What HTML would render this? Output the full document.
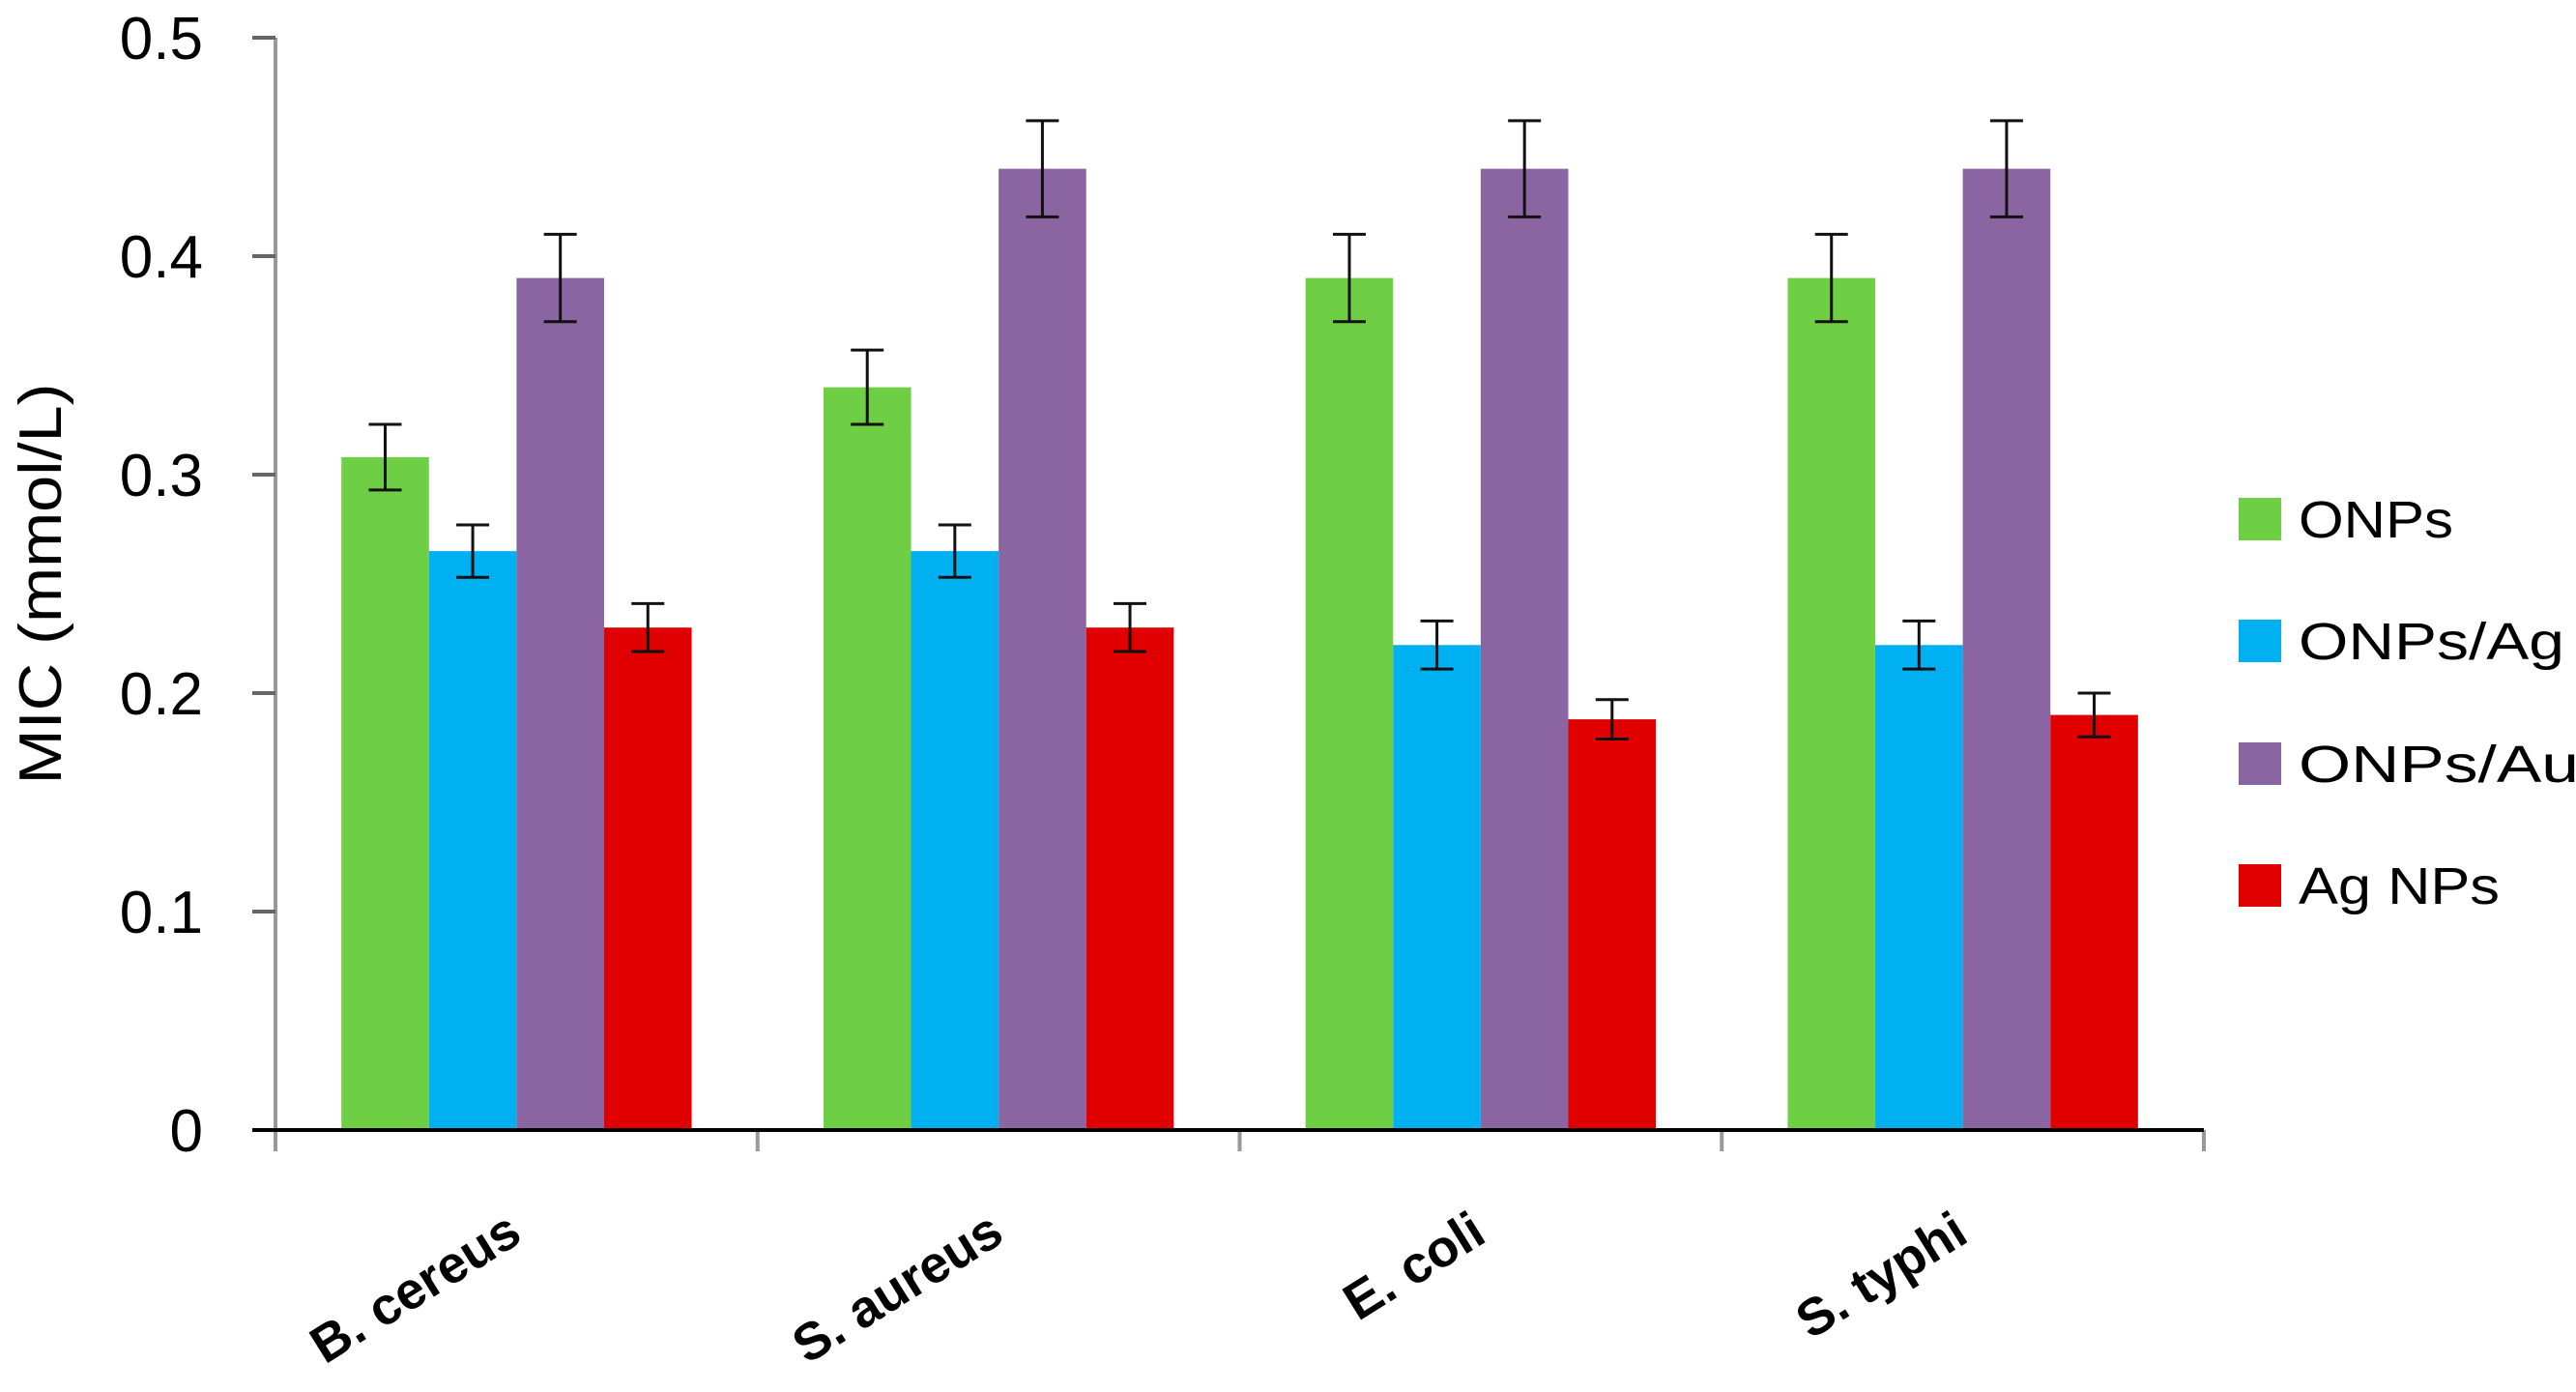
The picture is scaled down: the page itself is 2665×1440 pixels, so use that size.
<!DOCTYPE html>
<html><head><meta charset="utf-8"><style>
html,body{margin:0;padding:0;background:#fff;}
svg{display:block;font-family:"Liberation Sans","DejaVu Sans",sans-serif;}
</style></head><body>
<svg id="chart" width="2665" height="1440" viewBox="0 0 2665 1440"></svg>
<script>
const categories = ["B. cereus", "S. aureus", "E. coli", "S. typhi"];
const seriesNames = ["ONPs", "ONPs/Ag", "ONPs/Au", "Ag NPs"];
const onpsValues = [0.308, 0.34, 0.39, 0.39];
const onpsAgValues = [0.265, 0.265, 0.222, 0.222];
const onpsAuValues = [0.39, 0.44, 0.44, 0.44];
const agNpsValues = [0.23, 0.23, 0.188, 0.19];
const onpsErr = [0.015, 0.017, 0.02, 0.02];
const onpsAgErr = [0.012, 0.012, 0.011, 0.011];
const onpsAuErr = [0.02, 0.022, 0.022, 0.022];
const agNpsErr = [0.011, 0.011, 0.009, 0.01];
const yTicks = [0, 0.1, 0.2, 0.3, 0.4, 0.5];
const yTickLabels = ["0", "0.1", "0.2", "0.3", "0.4", "0.5"];

const colors = ["#6fcf44", "#00b0f0", "#8b64a2", "#e00000"];
const seriesVals = [onpsValues, onpsAgValues, onpsAuValues, agNpsValues];
const seriesErr = [onpsErr, onpsAgErr, onpsAuErr, agNpsErr];

const NS = "http://www.w3.org/2000/svg";
const svg = document.getElementById("chart");
const X0 = 285, X1 = 2280, Y0 = 1169, Y1 = 39, YMAX = 0.5;
const catW = (X1 - X0) / categories.length;
const barW = 90.6;
function y(v){ return Y0 - (v / YMAX) * (Y0 - Y1); }
function xCat(i){ return X0 + catW * (i + 0.5); }
function mk(tag, attrs, parent){
  const e = document.createElementNS(NS, tag);
  for (const k in attrs) e.setAttribute(k, attrs[k]);
  (parent || svg).appendChild(e);
  return e;
}

// y axis
const yAxis = mk("line", {x1:X0, y1:Y1, x2:X0, y2:Y0+20, stroke:"#999", "stroke-width":4});


yTicks.forEach((t, i) => {
  const tk = mk("line", {x1:X0-24, y1:y(t), x2:X0, y2:y(t), stroke:"#666", "stroke-width":4});
  
  
  const lb = mk("text", {x:210, y:y(t)+22, "text-anchor":"end", "font-size":62, fill:"#000"});
  lb.textContent = yTickLabels[i];
  
  
});
const yt = mk("text", {x:0, y:0, transform:"translate(63,604) rotate(-90)", "text-anchor":"middle", "font-size":62, fill:"#000", textLength:415, lengthAdjust:"spacingAndGlyphs"});
yt.textContent = "MIC (mmol/L)";



// bars
categories.forEach((c, ci) => {
  const start = xCat(ci) - barW * 2;
  seriesVals.forEach((vals, si) => {
    const bx = start + si * barW;
    const r = mk("rect", {x:bx, y:y(vals[ci]), width:barW, height:Y0 - y(vals[ci]), fill:colors[si]});
    
    
    const cx = bx + barW / 2, e = seriesErr[si][ci];
    const g = mk("g", {stroke:"#111", "stroke-width":3});
    
    
    mk("line", {x1:cx, y1:y(vals[ci]+e), x2:cx, y2:y(vals[ci]-e)}, g);
    mk("line", {x1:cx-17, y1:y(vals[ci]+e), x2:cx+17, y2:y(vals[ci]+e)}, g);
    mk("line", {x1:cx-17, y1:y(vals[ci]-e), x2:cx+17, y2:y(vals[ci]-e)}, g);
  });
  const lb = mk("text", {x:0, y:0, transform:"translate(" + (xCat(ci)+8) + ",1283) rotate(-32)", "text-anchor":"end", "font-size":54, "font-weight":"bold", fill:"#000"});
  lb.textContent = c;
  
  
});

// x axis
for (let i = 0; i <= categories.length; i++) {
  const tk = mk("line", {x1:X0 + catW*i, y1:Y0, x2:X0 + catW*i, y2:Y0+22, stroke:"#999", "stroke-width":4});
  
  
}
const xAxis = mk("line", {x1:X0-24, y1:Y0, x2:X1, y2:Y0, stroke:"#000", "stroke-width":4});



// legend
const legY = [537, 663, 790, 916];
const legW = [160, 275, 290, 208];
seriesNames.forEach((n, i) => {
  const g = mk("g", {});
  
  
  mk("rect", {x:2316, y:legY[i]-22, width:44, height:44, fill:colors[i]}, g);
  const t = mk("text", {x:2378, y:legY[i]+19, "font-size":54, fill:"#000", textLength:legW[i], lengthAdjust:"spacingAndGlyphs"}, g);
  t.textContent = n;
});
</script>
</body></html>
